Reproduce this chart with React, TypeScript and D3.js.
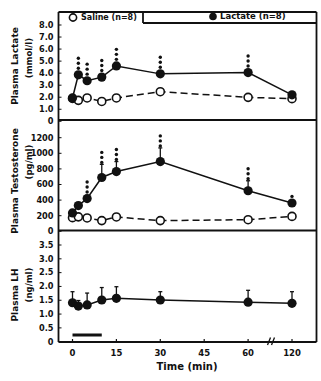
import React from "react";
import * as d3 from "d3";

const times = [0, 2, 5, 10, 15, 30, 60, 120];
const xTickValues = [0, 15, 30, 45, 60, 120];

const lactateLac = [1.94, 3.86, 3.37, 3.67, 4.6, 3.94, 4.05, 2.2];
const lactateSal = [1.9, 1.74, 1.94, 1.65, 1.94, 2.46, 1.99, 1.88];
const lactateStars = [0, 3, 3, 3, 3, 3, 3, 0];
const lactateTicks = [0, 1, 2, 3, 4, 5, 6, 7, 8];

const testoLac = [235, 330, 420, 690, 766, 894, 520, 363];
const testoLacSem = [0, 0, 40, 168, 128, 175, 128, 0];
const testoSal = [175, 185, 171, 137, 184, 137, 149, 191];
const testoStars = [0, 0, 3, 3, 3, 3, 3, 1];
const testoTicks = [0, 200, 400, 600, 800, 1000, 1200];

const lhLac = [1.41, 1.29, 1.33, 1.51, 1.57, 1.51, 1.43, 1.39];
const lhSem = [0.4, 0.2, 0.43, 0.45, 0.42, 0.3, 0.43, 0.42];
const lhTicks = [0, 0.5, 1, 1.5, 2, 2.5, 3, 3.5];

const infusion = [0, 10];

const FONT = "'DejaVu Sans', sans-serif";

const tpos = (t: number) => (t <= 60 ? t : 75);

export default function App() {
  const L = 58.5, R = 316.5, TOP = 12, BOTTOM = 342;
  const x = d3.scaleLinear().domain([0, 75]).range([72.5, 292]);
  const X = (t: number) => x(tpos(t));

  const yLac = d3.scaleLinear().domain([0, 8]).range([121.3, 25]);
  const yTes = d3.scaleLinear().domain([0, 1200]).range([231.3, 137.7]);
  const yLH = d3.scaleLinear().domain([0, 3.5]).range([341.7, 245]);

  const lineGen = (ys: d3.ScaleLinear<number, number>, vals: number[]) =>
    d3.line<number>().x((_, i) => X(times[i])).y((v) => ys(v))(vals) || "";

  const r = 4.6;

  const stars = (cx: number, base: number, n: number, key: string) =>
    d3.range(n).map((k) => (
      <circle key={key + k} cx={cx} cy={base - 2 - k * 5} r={1.7} fill="#111" />
    ));

  const yTickLabels = (
    ys: d3.ScaleLinear<number, number>,
    ticks: number[],
    fmt: (v: number) => string,
    key: string
  ) =>
    ticks.map((v) => (
      <g key={key + v}>
        <line x1={L} x2={L + 3} y1={ys(v)} y2={ys(v)} stroke="#111" strokeWidth={1} />
        <text
          x={53.5}
          y={ys(v)}
          dy="0.35em"
          textAnchor="end"
          fontSize={8.2}
          fontWeight="bold"
          fontFamily={FONT}
          fill="#111"
        >
          {fmt(v)}
        </text>
      </g>
    ));

  const fmt1 = (v: number) => (v === 0 ? "0" : d3.format(".1f")(v));
  const fmt0 = (v: number) => String(v);

  const yLabel = (cy: number, line1: string, line2: string, cy2: number) => (
    <g>
      <text
        transform={`translate(18,${cy}) rotate(-90)`}
        textAnchor="middle"
        fontSize={9}
        fontWeight="bold"
        fontFamily={FONT}
        fill="#111"
      >
        {line1}
      </text>
      <text
        transform={`translate(32,${cy2}) rotate(-90)`}
        textAnchor="middle"
        fontSize={8.5}
        fontWeight="bold"
        fontFamily={FONT}
        fill="#111"
      >
        {line2}
      </text>
    </g>
  );

  return (
    <svg
      width={321}
      height={381}
      style={{ position: "fixed", left: 0, top: 0, background: "#fff" }}
    >
      <rect x={0} y={0} width={321} height={381} fill="#fff" />
      {/* frame */}
      <g stroke="#111" strokeWidth={1.8} fill="none">
        <line x1={L} x2={R} y1={TOP} y2={TOP} />
        <line x1={L} x2={L} y1={TOP} y2={BOTTOM} />
        <line x1={R} x2={R} y1={TOP} y2={BOTTOM} />
        <line x1={L} x2={R} y1={BOTTOM} y2={BOTTOM} />
        <line x1={L} x2={R} y1={120} y2={120} />
        <line x1={L} x2={R} y1={230.5} y2={230.5} />
        <line x1={143} x2={143} y1={TOP} y2={23} />
        <line x1={143} x2={R} y1={23} y2={23} />
      </g>

      {/* legend */}
      <circle cx={73} cy={17.5} r={3.6} fill="#fff" stroke="#111" strokeWidth={1.6} />
      <text x={81} y={17.5} dy="0.35em" fontSize={8} fontWeight="bold" fontFamily={FONT} fill="#111">
        Saline (n=8)
      </text>
      <circle cx={213} cy={16.5} r={3.8} fill="#111" />
      <text x={220} y={16.5} dy="0.35em" fontSize={8.5} fontWeight="bold" fontFamily={FONT} fill="#111">
        Lactate (n=8)
      </text>

      {/* y axes labels */}
      {yTickLabels(yLac, lactateTicks, fmt1, "lac")}
      {yTickLabels(yTes, testoTicks, fmt0, "tes")}
      {yTickLabels(yLH, lhTicks, fmt1, "lh")}
      {yLabel(66, "Plasma Lactate", "(mmol/l)", 58)}
      {yLabel(181, "Plasma Testosterone", "(pg/ml)", 162)}
      {yLabel(295, "Plasma LH", "(ng/ml)", 285)}

      {/* x axis */}
      {xTickValues.map((t) => (
        <g key={"xt" + t}>
          <line x1={X(t)} x2={X(t)} y1={BOTTOM} y2={BOTTOM - 3} stroke="#111" strokeWidth={1.2} />
          <text
            x={X(t)}
            y={353}
            dy="0.35em"
            textAnchor="middle"
            fontSize={8.5}
            fontWeight="bold"
            fontFamily={FONT}
            fill="#111"
          >
            {t}
          </text>
        </g>
      ))}
      <g stroke="#111" strokeWidth={1.3}>
        <line x1={267.5} y1={345} x2={270.5} y2={337.5} />
        <line x1={271.5} y1={345} x2={274.5} y2={337.5} />
      </g>
      <text
        x={187}
        y={366}
        dy="0.35em"
        textAnchor="middle"
        fontSize={10}
        fontWeight="bold"
        fontFamily={FONT}
        fill="#111"
      >
        Time (min)
      </text>

      {/* infusion bar */}
      <line
        x1={X(infusion[0])}
        x2={X(infusion[1])}
        y1={335}
        y2={335}
        stroke="#111"
        strokeWidth={3}
      />

      {/* Panel 1: lactate */}
      <path d={lineGen(yLac, lactateSal)} fill="none" stroke="#111" strokeWidth={1.5} strokeDasharray="7,4" />
      <path d={lineGen(yLac, lactateLac)} fill="none" stroke="#111" strokeWidth={1.5} />
      {lactateSal.map((v, i) => (
        <circle key={"ls" + i} cx={X(times[i])} cy={yLac(v)} r={r - 0.6} fill="#fff" stroke="#111" strokeWidth={1.6} />
      ))}
      {lactateLac.map((v, i) => (
        <g key={"ll" + i}>
          <circle cx={X(times[i])} cy={yLac(v)} r={r} fill="#111" />
          {stars(X(times[i]), yLac(v) - r, lactateStars[i], "lst" + i)}
        </g>
      ))}

      {/* Panel 2: testosterone */}
      <path d={lineGen(yTes, testoSal)} fill="none" stroke="#111" strokeWidth={1.5} strokeDasharray="7,4" />
      <path d={lineGen(yTes, testoLac)} fill="none" stroke="#111" strokeWidth={1.5} />
      {testoSal.map((v, i) => (
        <circle key={"ts" + i} cx={X(times[i])} cy={yTes(v)} r={r - 0.6} fill="#fff" stroke="#111" strokeWidth={1.6} />
      ))}
      {testoLac.map((v, i) => {
        const cx = X(times[i]);
        const cy = yTes(v);
        const top = yTes(v + testoLacSem[i]);
        const base = Math.min(top, cy - r);
        return (
          <g key={"tl" + i}>
            {testoLacSem[i] > 0 && (
              <g stroke="#111" strokeWidth={1.3}>
                <line x1={cx} x2={cx} y1={cy} y2={top} />
                <line x1={cx - 2} x2={cx + 2} y1={top} y2={top} />
              </g>
            )}
            <circle cx={cx} cy={cy} r={r} fill="#111" />
            {stars(cx, base, testoStars[i], "tst" + i)}
          </g>
        );
      })}

      {/* Panel 3: LH */}
      <path d={lineGen(yLH, lhLac)} fill="none" stroke="#111" strokeWidth={1.5} />
      {lhLac.map((v, i) => {
        const cx = X(times[i]);
        const cy = yLH(v);
        const top = yLH(v + lhSem[i]);
        return (
          <g key={"lh" + i}>
            <g stroke="#111" strokeWidth={1.3}>
              <line x1={cx} x2={cx} y1={cy} y2={top} />
              <line x1={cx - 2} x2={cx + 2} y1={top} y2={top} />
            </g>
            <circle cx={cx} cy={cy} r={r} fill="#111" />
          </g>
        );
      })}
    </svg>
  );
}
